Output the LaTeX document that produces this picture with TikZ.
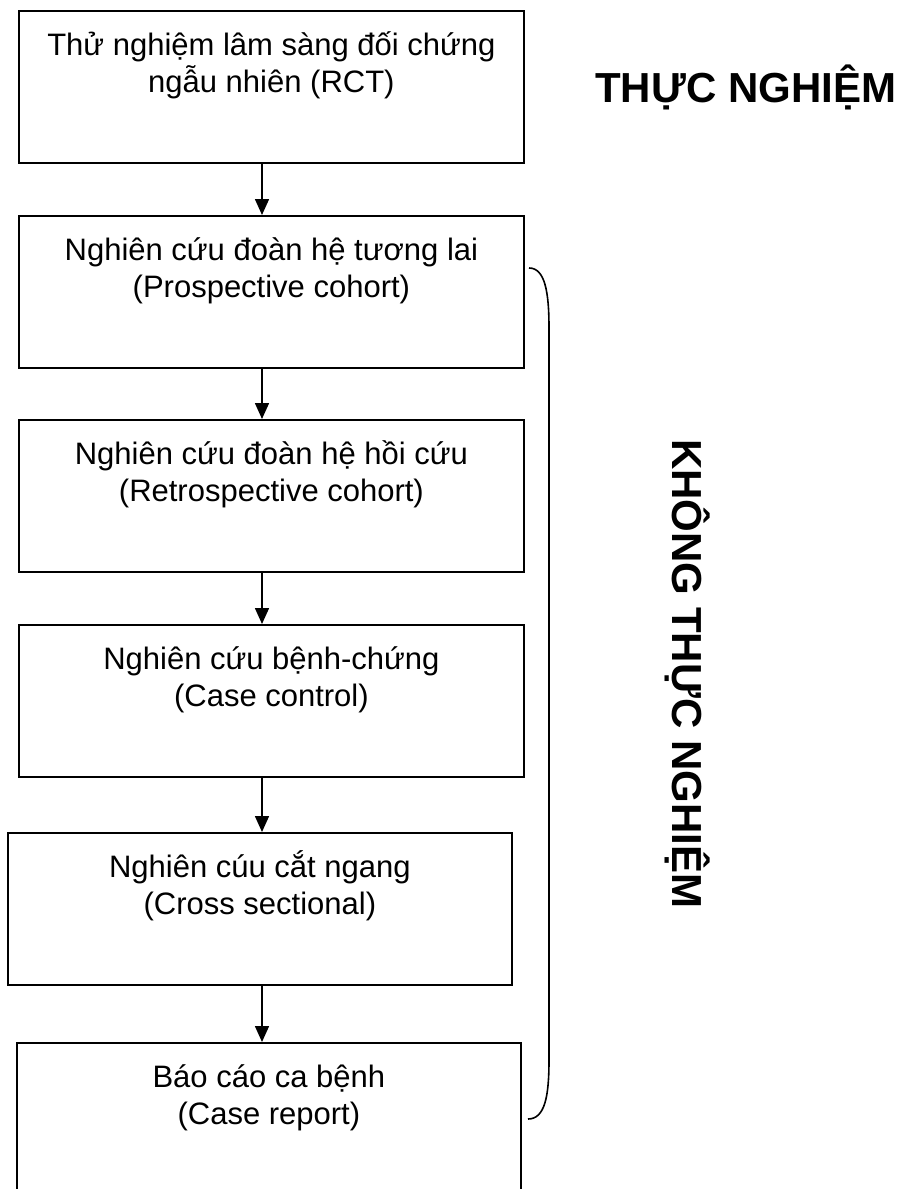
\documentclass[tikz,border=0pt]{standalone}
\usepackage{fontspec}
\setmainfont{Liberation Sans}
\usetikzlibrary{arrows.meta}
\usetikzlibrary{calc}

\begin{document}
\begin{tikzpicture}[x=1pt,y=-1pt,
  box/.style={draw,line width=1.8pt,minimum width=505pt,minimum height=152pt,inner sep=0,anchor=north west},
  txt/.style={anchor=north,align=center,inner sep=0,font={\fontsize{31}{37}\selectfont\lineskiplimit=-30pt}},
  big/.style={inner sep=0,anchor=base west,font={\fontsize{42}{46}\selectfont\bfseries}},
  arr/.style={line width=1.6pt,-{Triangle[length=16pt,width=14pt]}},
  brace/.style={line width=1.6pt}]

  \useasboundingbox (0,0) rectangle (907,1189);

  \node[box] (rct) at (18,10) {};
  \node[box] (pro) at (18,215) {};
  \node[box] (retro) at (18,419) {};
  \node[box] (cc) at (18,624) {};
  \node[box,minimum width=504pt] (cross) at (7,832) {};
  \node[box,minimum width=504pt] (report) at (16,1042) {};

  \node[txt] (rcttxt) at (rct.north) {\rule{0pt}{45pt}Thử nghiệm lâm sàng đối chứng\\ngẫu nhiên (RCT)};
  \node[txt] (protxt) at (pro.north) {\rule{0pt}{45pt}Nghiên cứu đoàn hệ tương lai\\(Prospective cohort)};
  \node[txt] (retrotxt) at (retro.north) {\rule{0pt}{45pt}Nghiên cứu đoàn hệ hồi cứu\\(Retrospective cohort)};
  \node[txt] (cctxt) at (cc.north) {\rule{0pt}{45pt}Nghiên cứu bệnh-chứng\\(Case control)};
  \node[txt] (crosstxt) at (cross.north) {\rule{0pt}{45pt}Nghiên cúu cắt ngang\\(Cross sectional)};
  \node[txt] (reporttxt) at (report.north) {\rule{0pt}{45pt}Báo cáo ca bệnh\\(Case report)};

  \coordinate (ax) at (262,0);
  \draw[arr] (rct.south -| ax) -- (pro.north -| ax);
  \draw[arr] (pro.south -| ax) -- (retro.north -| ax);
  \draw[arr] (retro.south -| ax) -- (cc.north -| ax);
  \draw[arr] (cc.south -| ax) -- (cross.north -| ax);
  \draw[arr] (cross.south -| ax) -- (report.north -| ax);

  \coordinate (bt) at (529,268);
  \coordinate (bb) at (528,1119);
  \draw[brace] (bt) .. controls (545,268) and (549,292) .. (549,328) -- (549,1060)
    .. controls (549,1096) and (545,1119) .. (bb);

  \node[big] (tn) at (595,102) {THỰC NGHIỆM};
  \node[big,rotate=-90] (ktn) at (672,439) {KHÔNG THỰC NGHIỆM};
\end{tikzpicture}
\end{document}
